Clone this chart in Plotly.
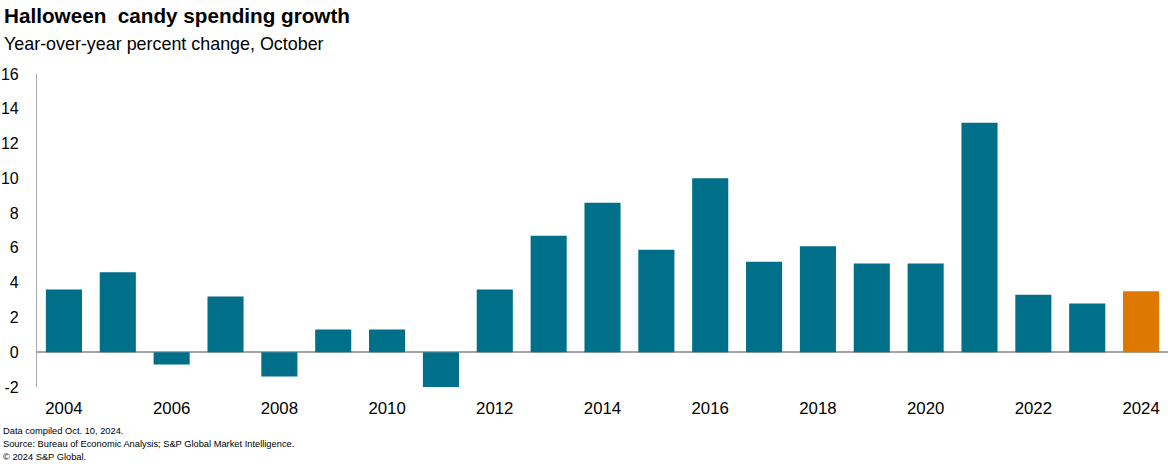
import plotly.graph_objects as go

years = list(range(2004, 2025))
values = [3.6, 4.6, -0.7, 3.2, -1.4, 1.3, 1.3, -2.0, 3.6, 6.7, 8.6, 5.9, 10.0, 5.2, 6.1, 5.1, 5.1, 13.2, 3.3, 2.8, 3.5]
ytick_vals = [-2, 0, 2, 4, 6, 8, 10, 12, 14, 16]
ytick_text = ["-2", "0", "2", "4", "6", "8", "10", "12", "14", "16"]
teal = "#006f89"
orange = "#dd7800"
colors = [orange if y == 2024 else teal for y in years]

title_text = "Halloween\u00a0 candy spending growth"
subtitle_text = "Year-over-year percent change, October"
footnotes = [
    "Data compiled Oct. 10, 2024.",
    "Source: Bureau of Economic Analysis; S&P Global Market Intelligence.",
    "\u00a9 2024 S&P Global.",
]

W, H = 1168, 464
L, R, T, B = 37, 0, 74, 77
ph = H - T - B
pw = W - L - R

def py(p):
    return (H - B - p) / ph

def px(p):
    return (p - L) / pw

fig = go.Figure(go.Bar(x=years, y=values, marker=dict(color=colors, line=dict(width=0)),
                       hoverinfo="x+y"))

font = "Liberation Sans, Arial, sans-serif"
ann = [
    dict(text="<b>" + title_text + "</b>", x=px(2), y=py(15), xref="paper", yref="paper",
         xanchor="left", yanchor="middle", showarrow=False, font=dict(size=20.7, color="#000000", family=font)),
    dict(text=subtitle_text, x=px(2), y=py(44), xref="paper", yref="paper",
         xanchor="left", yanchor="middle", showarrow=False, font=dict(size=17.9, color="#000000", family=font)),
]
for i, t in enumerate(footnotes):
    ann.append(dict(text=t, x=px(1), y=py(431 + 13 * i), xref="paper", yref="paper",
                    xanchor="left", yanchor="middle", showarrow=False,
                    font=dict(size=9.3, color="#000000", family=font)))

fig.update_layout(
    width=W, height=H,
    margin=dict(l=L, r=R, t=T, b=B, pad=0),
    paper_bgcolor="white", plot_bgcolor="white",
    bargap=0.33,
    showlegend=False,
    font=dict(family=font, color="#000000", size=16),
    annotations=ann,
    xaxis=dict(range=[2003.5, 2024.5], tick0=2004, dtick=2, showgrid=False, zeroline=False,
               showline=False, ticks="", tickfont=dict(size=16.8), ticklabelstandoff=9),
    yaxis=dict(range=[-2, 16], tickmode="array", tickvals=ytick_vals, ticktext=ytick_text,
               showgrid=False, zeroline=True, zerolinecolor="#a6a6a6",
               zerolinewidth=1.5, showline=True, linecolor="#a6a6a6", linewidth=1.2, ticks="",
               tickfont=dict(size=16), ticklabelstandoff=14),
)

fig.write_html("out.html", config={"displayModeBar": False},
               post_script="document.body.style.margin='0';document.body.style.padding='0';document.body.style.overflow='hidden';")
